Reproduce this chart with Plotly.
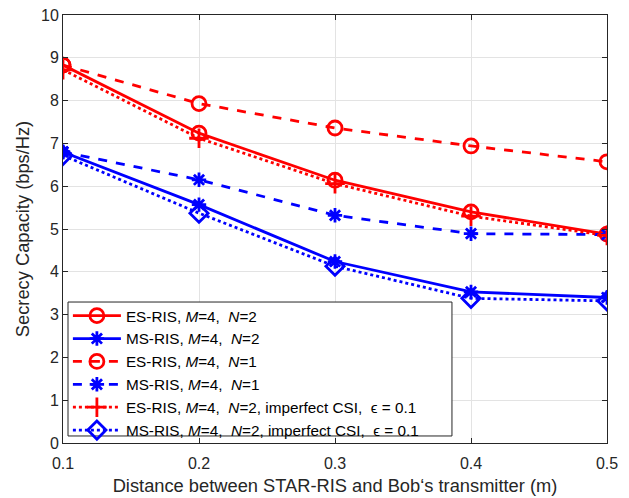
import plotly.graph_objects as go

x = [0.1, 0.2, 0.3, 0.4, 0.5]
es_n2 = [8.83, 7.24, 6.14, 5.40, 4.88]
ms_n2 = [6.80, 5.57, 4.24, 3.53, 3.40]
es_n1 = [8.83, 7.93, 7.36, 6.94, 6.57]
ms_n1 = [6.80, 6.15, 5.32, 4.89, 4.87]
es_imp = [8.72, 7.12, 6.06, 5.30, 4.85]
ms_imp = [6.72, 5.37, 4.13, 3.38, 3.32]

names = [
    "ES-RIS, <i>M</i>=4, &nbsp;<i>N</i>=2",
    "MS-RIS, <i>M</i>=4, &nbsp;<i>N</i>=2",
    "ES-RIS, <i>M</i>=4, &nbsp;<i>N</i>=1",
    "MS-RIS, <i>M</i>=4, &nbsp;<i>N</i>=1",
    "ES-RIS, <i>M</i>=4, &nbsp;<i>N</i>=2, imperfect CSI, &nbsp;ϵ = 0.1",
    "MS-RIS, <i>M</i>=4, &nbsp;<i>N</i>=2, imperfect CSI, &nbsp;ϵ = 0.1",
]

RED = "#ff0000"
BLUE = "#0000ff"
series = [
    (es_n2, RED, "solid", "circle-open", 14),
    (ms_n2, BLUE, "solid", "asterisk-open", 12),
    (es_n1, RED, "dash", "circle-open", 14),
    (ms_n1, BLUE, "dash", "asterisk-open", 12),
    (es_imp, RED, "dot", "cross-thin-open", 14),
    (ms_imp, BLUE, "dot", "diamond-open", 14),
]

fig = go.Figure()
for (ys, col, dash, sym, sz), nm in zip(series, names):
    fig.add_trace(go.Scatter(
        x=x, y=ys, name=nm, mode="lines+markers",
        line=dict(color=col, width=2.8, dash=dash),
        marker=dict(symbol=sym, size=sz, color=col, line=dict(color=col, width=2.8)),
    ))

axis_common = dict(
    showgrid=True, gridcolor="#e3e3e3", gridwidth=1,
    showline=True, linecolor="#262626", linewidth=1, mirror="ticks",
    ticks="inside", ticklen=5, tickcolor="#262626",
    tickfont=dict(size=16, color="#262626"), zeroline=False,
    automargin=False, ticklabeloverflow="allow",
)
fig.update_xaxes(range=[0.1, 0.5], dtick=0.1, tickformat=".1f",
                 ticklabelstandoff=6,
                 title=dict(text="Distance between STAR-RIS and Bob‘s transmitter (m)",
                            font=dict(size=18.3, color="#262626"), standoff=7),
                 **axis_common)
fig.update_yaxes(range=[0, 10], dtick=1,
                 title=dict(text="Secrecy Capacity (bps/Hz)",
                            font=dict(size=18.3, color="#262626"), standoff=6),
                 **axis_common)

# legend frame (white box with dark border, covering the curves beneath)
fig.add_shape(type="rect", xref="paper", yref="paper",
              x0=0.0092, x1=0.715, y0=0.0164, y1=0.3294,
              fillcolor="white", line=dict(color="#262626", width=1), layer="above")

# page body has an 8px margin: shift the figure box to compensate
fig.update_layout(
    width=621, height=490,
    margin=dict(l=55, r=22, t=7, b=55),
    paper_bgcolor="white", plot_bgcolor="white",
    font=dict(family="Liberation Sans, Arial, sans-serif", color="#000000"),
    showlegend=True,
    legend=dict(x=0.009, y=0.336, xanchor="left", yanchor="top",
                bgcolor="rgba(0,0,0,0)", borderwidth=0,
                font=dict(size=15.3, color="#000000"), tracegroupgap=0,
                itemwidth=48),
)

fig.write_html("out.html")
